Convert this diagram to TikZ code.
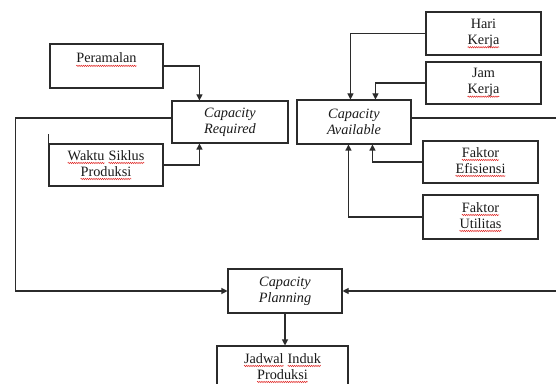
\documentclass[tikz,border=0pt]{standalone}
\usepackage{fontspec}
\setmainfont{Liberation Serif}
\usepackage{xcolor}
\usepackage{tikz}
\usetikzlibrary{arrows.meta,calc,decorations.pathmorphing,positioning}
\definecolor{cpInk}{HTML}{1A1A1A}
\definecolor{cpLine}{HTML}{2B2B2B}
\definecolor{cpWave}{HTML}{E0201E}
\newcommand\spellmark[1]{\tikz[baseline=(sw.base)]{%
  \node[draw=none, fill=none, inner sep=0pt, outer sep=0pt, minimum size=0pt] (sw) {#1};
  \draw[cpWave, line width=0.35pt, decorate,
    decoration={zigzag, segment length=1.6pt, amplitude=0.5pt}]
    ([yshift=-2.2pt]sw.base west) -- ([yshift=-2.2pt]sw.base east);}}
\tikzset{
  cp diagram/.style={font=\fontsize{10.7}{12}\selectfont, text=cpInk,
    line join=miter},
  cp box/.style={draw=cpLine, fill=white, line width=0.8pt,
    rectangle, align=center, inner sep=1pt},
  cp arrow/.style={-{Triangle[length=4.5pt,width=4.5pt]}, draw=cpLine, line width=0.8pt},
  cp line/.style={draw=cpLine, line width=0.8pt}
}

\begin{document}
\begin{tikzpicture}[cp diagram, x=0.75pt, y=-0.75pt]
\fill[white] (0,0) rectangle (556,384);
\clip (0,0) rectangle (556,384);
% left inputs
\node[cp box, minimum width=84.75pt, minimum height=33pt] (peramalan) at (106.5,66) {\spellmark{Peramalan}\\ \mbox{}};
\node[cp box, minimum width=85.5pt, minimum height=31.5pt] (waktu) at (106,165) {\spellmark{Waktu} \spellmark{Siklus}\\ \spellmark{Produksi}};
\node[cp box, minimum width=87pt, minimum height=31.5pt] (required) at (230,122) {\textit{Capacity}\\ \textit{Required}};
% right inputs
\node[cp box, minimum width=85.5pt, minimum height=33pt] (available) at (354,122) {\textit{Capacity}\\ \textit{Available}};
\node[cp box, minimum width=86.25pt, minimum height=32.25pt] (hari) at (483.5,33.5) {Hari\\ \spellmark{Kerja}};
\node[cp box, minimum width=86.25pt, minimum height=31.5pt] (jam) at (483.5,83) {Jam\\ \spellmark{Kerja}};
\node[cp box, minimum width=86.25pt, minimum height=31.5pt] (efisiensi) at (480.5,162) {\spellmark{Faktor}\\ \spellmark{Efisiensi}};
\node[cp box, minimum width=86.25pt, minimum height=33pt] (utilitas) at (480.5,217) {\spellmark{Faktor}\\ \spellmark{Utilitas}};
% planning
\node[cp box, minimum width=85.5pt, minimum height=33pt] (planning) at (285,291) {\textit{Capacity}\\ \textit{Planning}};
\node[cp box, minimum width=98.25pt, minimum height=33pt] (jadwal) at (282.5,368) {\spellmark{Jadwal} \spellmark{Induk}\\ \spellmark{Produksi}};

\draw[cp arrow] (peramalan.east) -| ($(required.north west)+(28,0)$);
\draw[cp arrow] (waktu.east) -| ($(required.south west)+(28,0)$);
\draw[cp line] (waktu.north west) -- ++(0,-9);
\draw[cp arrow] ($(required.west)+(0,-4)$) -| ($(planning.west)+(-212,0)$) -- (planning.west);
\draw[cp arrow] (hari.west) -| ($(available.north west)+(54,0)$);
\draw[cp arrow] (jam.west) -| ($(available.north west)+(79,0)$);
\draw[cp arrow] (efisiensi.west) -| ($(available.south west)+(76,0)$);
\draw[cp arrow] (utilitas.west) -| ($(available.south west)+(52,0)$);
\draw[cp arrow] ($(available.east)+(0,-4)$) -| ($(planning.east)+(260,0)$) -- (planning.east);
\draw[cp arrow] (planning.south) -- (planning.south |- jadwal.north);
\end{tikzpicture}
\end{document}
